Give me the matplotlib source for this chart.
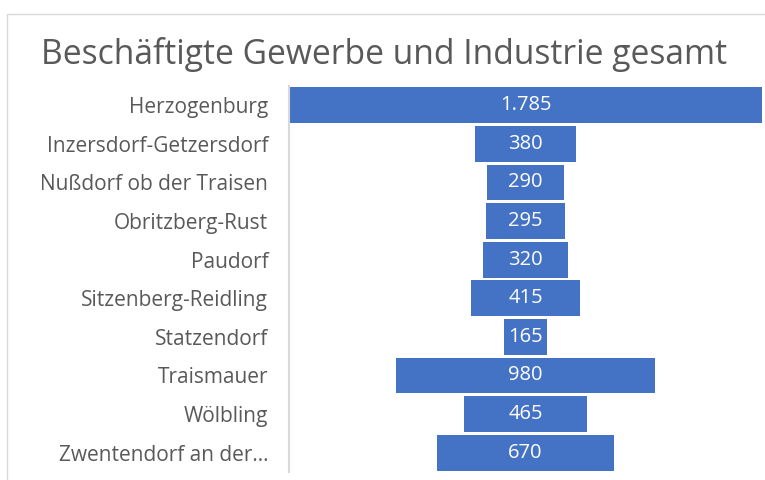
import matplotlib
matplotlib.use('Agg')
import matplotlib.pyplot as plt
from matplotlib.patches import Rectangle

# ---------------------------------------------------------------------------
# Daten
# ---------------------------------------------------------------------------
gemeinden = [
    "Herzogenburg",
    "Inzersdorf-Getzersdorf",
    "Nußdorf ob der Traisen",
    "Obritzberg-Rust",
    "Paudorf",
    "Sitzenberg-Reidling",
    "Statzendorf",
    "Traismauer",
    "Wölbling",
    "Zwentendorf an der…",
]
beschaeftigte = [1785, 380, 290, 295, 320, 415, 165, 980, 465, 670]
wert_labels = ["1.785", "380", "290", "295", "320", "415", "165", "980", "465", "670"]

BAR_COLOR = "#4472c4"
TEXT_GRAY = "#595959"
FONT = ["Open Sans", "DejaVu Sans"]

fig = plt.figure(figsize=(7.65, 4.8), dpi=100)
W, H = 765, 480

# Rahmen des Diagrammbereichs
fig.patches.append(Rectangle((7 / W, -0.1), 1.2, (H - 14) / H + 0.1,
                             transform=fig.transFigure, fill=False,
                             edgecolor="#d9d9d9", linewidth=1.0))

fig.text(384 / W, 1 - 54 / H, "Beschäftigte Gewerbe und Industrie gesamt",
         ha="center", va="center", fontsize=24.2, color=TEXT_GRAY, family=FONT)

ax = fig.add_axes([289 / W, 1 - 472 / H, (762 - 289) / W, (472 - 86) / H])

n = len(gemeinden)
ypos = list(range(n))
lefts = [-v / 2 for v in beschaeftigte]
ax.barh(ypos, beschaeftigte, left=lefts, height=0.93, color=BAR_COLOR)

for y, lab in zip(ypos, wert_labels):
    ax.text(0, y, lab, ha="center", va="center", color="white",
            fontsize=14.5, family=FONT)

m = max(beschaeftigte) / 2
ax.set_xlim(-m, m)
ax.set_ylim(n - 0.5, -0.5)
ax.set_yticks(ypos)
ax.set_yticklabels(gemeinden, fontsize=15, color=TEXT_GRAY, family=FONT)
ax.tick_params(axis="y", length=0, pad=15)
ax.set_xticks([])
for s in ["top", "right", "bottom"]:
    ax.spines[s].set_visible(False)
ax.spines["left"].set_color("#d9d9d9")
ax.spines["left"].set_linewidth(1.5)

fig.savefig("out.png", dpi=100, facecolor="white")
